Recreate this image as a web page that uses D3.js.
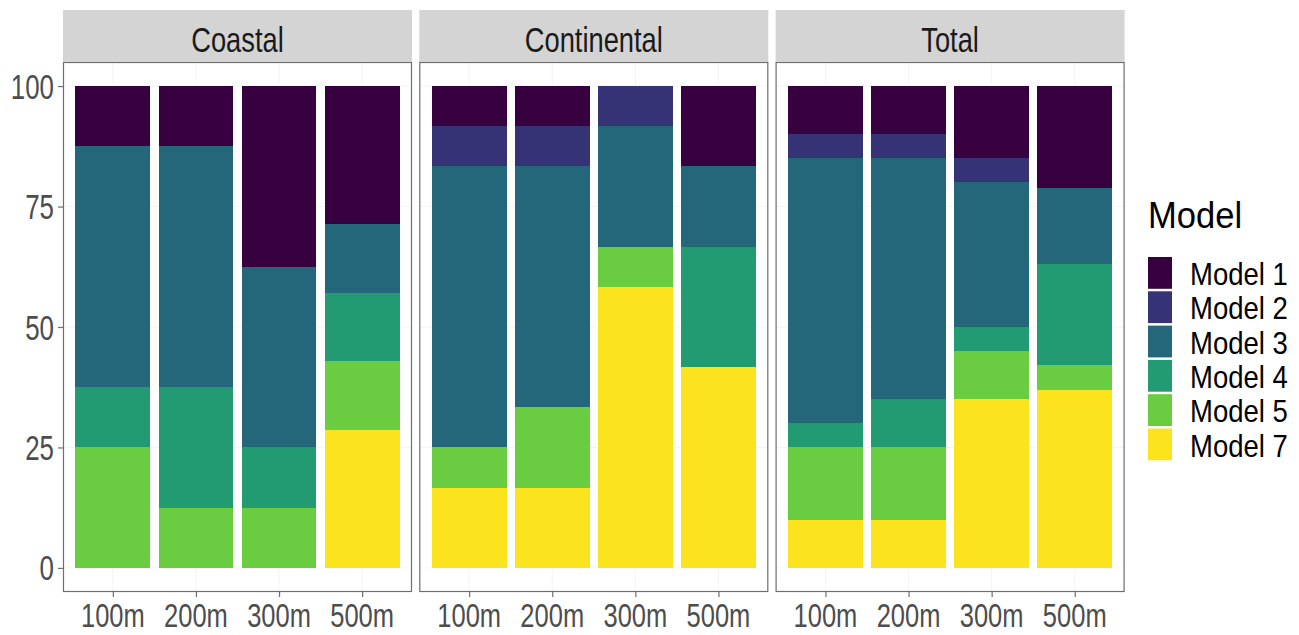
<!DOCTYPE html>
<html>
<head>
<meta charset="utf-8">
<script src="https://cdn.jsdelivr.net/npm/d3@7"></script>
<style>
  html, body { margin: 0; padding: 0; background: #ffffff; }
  svg { display: block; }
  text { font-family: "Liberation Sans", Arial, sans-serif; }
</style>
</head>
<body>
<svg id="chart" width="1299" height="635"></svg>
<script>
// ---------------- DATA ----------------
const facets = ["Coastal", "Continental", "Total"];
const distances = ["100m", "200m", "300m", "500m"];
const models = ["Model 1", "Model 2", "Model 3", "Model 4", "Model 5", "Model 7"];
const modelColors = ["#37003f", "#353275", "#24667a", "#229a72", "#6acc40", "#fbe31e"];
const yTicks = [0, 25, 50, 75, 100];

// percentages, per facet: [100m, 200m, 300m, 500m]
const model1 = [[12.5, 12.5, 37.5, 28.57], [8.33, 8.33, 0, 16.67], [10, 10, 15, 21.05]];
const model2 = [[0, 0, 0, 0], [8.33, 8.33, 8.33, 0], [5, 5, 5, 0]];
const model3 = [[50, 50, 37.5, 14.29], [58.33, 50, 25, 16.67], [55, 50, 30, 15.79]];
const model4 = [[12.5, 25, 12.5, 14.29], [0, 0, 0, 25], [5, 10, 5, 21.05]];
const model5 = [[25, 12.5, 12.5, 14.29], [8.33, 16.67, 8.33, 0], [15, 15, 10, 5.26]];
const model7 = [[0, 0, 0, 28.57], [16.67, 16.67, 58.33, 41.67], [10, 10, 35, 36.84]];
const modelValues = [model1, model2, model3, model4, model5, model7];

// ---------------- LAYOUT ----------------
const svg = d3.select("#chart");
const panelLeft = 63, panelW = 349, panelGap = 7.3;
const stripTop = 10, panelTop = 62, panelBottom = 592;

const y = d3.scaleLinear().domain([-5, 105]).range([panelBottom, panelTop]);
const colorScale = d3.scaleOrdinal().domain(models).range(modelColors);

function sText(sel, x, yPos, txt, size, sx, anchor, fill) {
  const g = sel.append("g").attr("transform", `translate(${x},${yPos}) scale(${sx},1)`);
  g.append("text")
    .attr("x", 0).attr("y", 0)
    .attr("text-anchor", anchor)
    .attr("font-size", size)
    .attr("fill", fill)
    .text(txt);
  return g;
}

// stacking: Model 7 at bottom, Model 1 on top
const stackKeys = models.slice().reverse();

facets.forEach((facet, fi) => {
  const x0 = panelLeft + fi * (panelW + panelGap);
  const x = d3.scalePoint().domain(distances).range([x0, x0 + panelW]).padding(0.6);
  const bw = x.step() * 0.9;

  // panel background
  svg.append("rect")
    .attr("x", x0).attr("y", panelTop)
    .attr("width", panelW).attr("height", panelBottom - panelTop)
    .attr("fill", "#ffffff");

  // faint grid
  const grid = svg.append("g");
  yTicks.forEach(t => {
    grid.append("line")
      .attr("x1", x0).attr("x2", x0 + panelW)
      .attr("y1", y(t)).attr("y2", y(t))
      .attr("stroke", "#f4f4f4").attr("stroke-width", 1);
  });
  distances.forEach(d => {
    grid.append("line")
      .attr("x1", x(d)).attr("x2", x(d))
      .attr("y1", panelTop).attr("y2", panelBottom)
      .attr("stroke", "#f4f4f4").attr("stroke-width", 1);
  });

  // build rows for stack
  const rows = distances.map((d, di) => {
    const row = { distance: d };
    models.forEach((m, mi) => { row[m] = modelValues[mi][fi][di]; });
    return row;
  });
  const series = d3.stack().keys(stackKeys)(rows);

  const barsG = svg.append("g").attr("shape-rendering", "crispEdges");
  series.forEach(s => {
    barsG.selectAll(null)
      .data(s)
      .enter().append("rect")
      .attr("x", d => x(d.data.distance) - bw / 2)
      .attr("width", bw)
      .attr("y", d => y(d[1]))
      .attr("height", d => Math.max(0, y(d[0]) - y(d[1])))
      .attr("fill", colorScale(s.key));
  });

  // panel border
  svg.append("rect")
    .attr("x", x0 + 0.5).attr("y", panelTop + 0.5)
    .attr("width", panelW - 1).attr("height", panelBottom - panelTop - 1)
    .attr("fill", "none").attr("stroke", "#6e6e6e").attr("stroke-width", 1.2);

  // strip
  svg.append("rect")
    .attr("x", x0).attr("y", stripTop)
    .attr("width", panelW).attr("height", panelTop - stripTop)
    .attr("fill", "#d4d4d4");
  sText(svg, x0 + panelW / 2, 52, facet, 35, 0.78, "middle", "#1a1a1a");

  // x axis
  const xAxis = d3.axisBottom(x).tickSize(5).tickPadding(4);
  const xg = svg.append("g").attr("transform", `translate(0,${panelBottom})`).call(xAxis);
  xg.select(".domain").remove();
  xg.selectAll(".tick line").attr("stroke", "#6e6e6e").attr("stroke-width", 1.2);
  xg.selectAll(".tick text").remove();
  distances.forEach(d => {
    sText(svg, x(d), 627, d, 34, 0.75, "middle", "#4d4d4d");
  });
});

// y axis
const yAxis = d3.axisLeft(y).tickValues(yTicks).tickSize(5);
const yg = svg.append("g").attr("transform", `translate(${panelLeft},0)`).call(yAxis);
yg.select(".domain").remove();
yg.selectAll(".tick line").attr("stroke", "#6e6e6e").attr("stroke-width", 1.2);
yg.selectAll(".tick text").remove();
yTicks.forEach(t => {
  sText(svg, 54, y(t) + 12.5, String(t), 35, 0.74, "end", "#4d4d4d");
});

// legend
const legend = svg.append("g");
sText(legend, 1148, 228, "Model", 36, 0.96, "start", "#000000");
const keyTop = 257, keyStep = 34.3;
models.forEach((m, i) => {
  legend.append("rect")
    .attr("x", 1148).attr("y", keyTop + i * keyStep)
    .attr("width", 24).attr("height", keyStep - 2.5)
    .attr("fill", colorScale(m));
  sText(legend, 1190, keyTop + i * keyStep + 28, m, 32, 0.86, "start", "#000000");
});
</script>
</body>
</html>
